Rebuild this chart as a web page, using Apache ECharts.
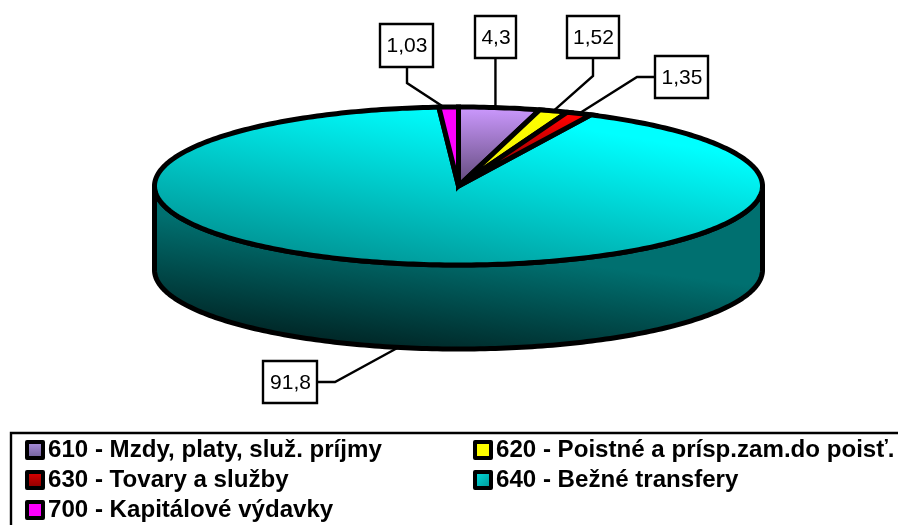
<!DOCTYPE html>
<html>
<head>
<meta charset="utf-8">
<style>html,body{margin:0;padding:0;background:#fff}#c{width:898px;height:525px}</style>
<script src="https://cdn.jsdelivr.net/npm/echarts@6/dist/echarts.min.js"></script>
</head>
<body>
<div id="c"></div>
<script>
const categories = ['610 - Mzdy, platy, služ. príjmy','620 - Poistné a prísp.zam.do poisť.','630 - Tovary a služby','640 - Bežné transfery','700 - Kapitálové výdavky'];
const values = [4.3, 1.52, 1.35, 91.8, 1.03];
const valueLabels = ['4,3', '1,52', '1,35', '91,8', '1,03'];

// geometry of the drawn disc
const cx = 458.5, cy = 186, rx = 304, ry = 79, depth = 84;
const line = 5;
// label box [left, top, width, height], optional knees, and a small nudge of the rim anchor
const labelLayout = [
  {box:[475,16,41,42], knees:[], nudge:-4},
  {box:[567,16,52,42], knees:[[593,58],[593,76]], nudge:0},
  {box:[655,56,53,42], knees:[[655,77],[637,77]], nudge:0},
  {box:[263,361,54,42], knees:[[317,382],[335,382]], nudge:-2},
  {box:[380,24,53,43], knees:[[407,67],[407,83]], nudge:-5}
];
const grad = (x0,y0,x1,y1,c0,c1) => new echarts.graphic.LinearGradient(x0,y0,x1,y1,[{offset:0,color:c0},{offset:1,color:c1}],true);
const topFills = [
  grad(0,107,0,186,'#CC99FF','#5F4878'),
  grad(0,112,0,186,'#FFFF00','#F0F000'),
  grad(0,116,0,186,'#FF0000','#700000'),
  grad(458,108,424,311,'#00FFFF','#008282'),
  '#FF00FF'
];
const sideFill = grad(458,250,442,385,'#007070','#001212');
const legendFills = [
  new echarts.graphic.LinearGradient(0,0,0,1,[{offset:0,color:'#B295E6'},{offset:1,color:'#6A5A90'}]),
  '#FFFF00',
  new echarts.graphic.LinearGradient(0,0,0,1,[{offset:0,color:'#E80000'},{offset:1,color:'#800000'}]),
  new echarts.graphic.LinearGradient(0,0,1,1,[{offset:0,color:'#00E8E8'},{offset:1,color:'#008C8C'}]),
  '#FF00FF'
];

const total = values.reduce((a,b)=>a+b,0);
const rim = (deg, dy) => {
  const t = deg*Math.PI/180;
  return [cx + rx*Math.sin(t), cy - ry*Math.cos(t) + (dy||0)];
};
const arcPts = (a0,a1,dy) => {
  const pts = [];
  const n = Math.max(2, Math.ceil(Math.abs(a1-a0)));
  for (let i=0;i<=n;i++) pts.push(rim(a0+(a1-a0)*i/n, dy));
  return pts;
};
let cum = 0;
const starts = values.map(v => { const s = cum; cum += v; return s; });
const stroke = {stroke:'#000', lineWidth:line, lineJoin:'round'};

function makeItem(i){
  return function(params, api){
    const a0 = starts[i]/total*360;
    const a1 = a0 + api.value(0)/total*360;
    const children = [];
    // the part of the wall this slice owns, facing the viewer
    const w0 = Math.max(a0,90), w1 = Math.min(a1,270);
    if (w1 > w0) {
      const pts = arcPts(w0,w1,0).concat(arcPts(w1,w0,depth));
      children.push({type:'polygon', shape:{points:pts}, style:Object.assign({fill:sideFill},stroke)});
    }
    children.push({type:'polygon', shape:{points:[[cx,cy]].concat(arcPts(a0,a1,0))},
      style:{fill:topFills[i], stroke:'#000', lineWidth:line, lineJoin:'miter', miterLimit:8}});
    // value label with its leader line
    const L = labelLayout[i];
    const mid = (a0+a1)/2;
    const onWall = mid > 90 && mid < 270;
    const anchor = rim(mid, onWall ? depth : 0);
    anchor[0] += L.nudge;
    const b = L.box;
    const leaderPts = L.knees.length ? L.knees.concat([anchor]) : [[anchor[0],b[1]+b[3]],anchor];
    children.push({type:'polyline', shape:{points:leaderPts}, style:{stroke:'#000', lineWidth:2.4, fill:'none'}});
    children.push({type:'rect', shape:{x:b[0],y:b[1],width:b[2],height:b[3]}, style:{fill:'#fff', stroke:'#000', lineWidth:2.4}});
    children.push({type:'text', style:{x:b[0]+b[2]/2+0.5, y:b[1]+b[3]/2+1, text:valueLabels[i], align:'center', verticalAlign:'middle',
      fill:'#000', font:'21px "Liberation Sans", Arial, sans-serif'}});
    return {type:'group', children};
  };
}
const drawOrder = [3,4,0,1,2];
const series = drawOrder.map((i,k)=>({
  type:'custom', name:categories[i], coordinateSystem:'none', z:2+k, silent:true,
  data:[[values[i]]], renderItem:makeItem(i), animation:false
}));
const legendText = {fontFamily:'"Liberation Sans", Arial, sans-serif', fontWeight:'bold', fontSize:24.1, color:'#000', padding:[4,0,0,0], lineHeight:26};
const legendBase = {orient:'vertical', itemWidth:16, itemHeight:16, itemGap:0, padding:0, selectedMode:false,
  icon:'rect', textStyle:legendText, z:20, height:200, width:440};
const legendItem = i => ({name:categories[i], itemStyle:{color:legendFills[i], borderColor:'#000', borderWidth:4, borderJoin:'round'}});

const chart = echarts.init(document.getElementById('c'), null, {renderer:'canvas'});
chart.setOption({
  backgroundColor:'#fff',
  animation:false,
  legend:[
    Object.assign({}, legendBase, {left:25, top:435, data:[0,2,4].map(legendItem)}),
    Object.assign({}, legendBase, {left:473, top:435, width:425, data:[1,3].map(legendItem)})
  ],
  graphic:[{type:'rect', z:1, shape:{x:11,y:433,width:1000,height:300}, style:{fill:'none',stroke:'#000',lineWidth:2.4}, silent:true}],
  series
});
</script>
</body>
</html>
